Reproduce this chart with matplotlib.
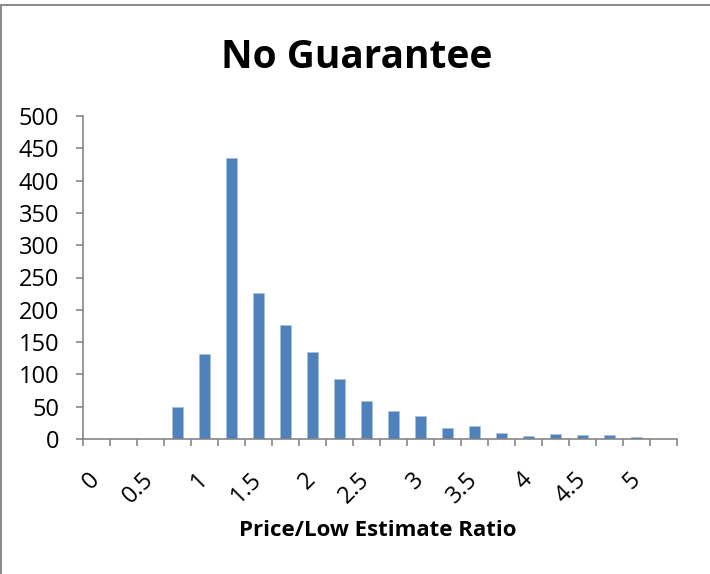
import matplotlib
matplotlib.use("Agg")
import matplotlib.pyplot as plt
from matplotlib.lines import Line2D

plt.rcParams['font.family'] = ['Open Sans', 'DejaVu Sans']

# histogram buckets of price / low estimate, 0.25 wide
bins = [0, 0.25, 0.5, 0.75, 1, 1.25, 1.5, 1.75, 2, 2.25, 2.5,
        2.75, 3, 3.25, 3.5, 3.75, 4, 4.25, 4.5, 4.75, 5, 5.25]
counts = [0, 0, 0, 49, 131, 435, 226, 177, 134, 93, 59,
          44, 36, 17, 20, 10, 4, 7, 6, 6, 3, 0]
yticks = [0, 50, 100, 150, 200, 250, 300, 350, 400, 450, 500]

bar_color = '#4F81BD'
axis_color = '#868686'

fig = plt.figure(figsize=(7.10, 5.74), dpi=100)
ax = fig.add_axes([83 / 710, 1 - 439 / 574, (677 - 83) / 710, (439 - 116) / 574])

pos = list(range(len(bins)))
ax.bar(pos, counts, width=0.4, color=bar_color, edgecolor='#A7C0DE', linewidth=0.5)

ax.set_xlim(-0.5, len(bins) - 0.5)
ax.set_ylim(0, 500)

# labels every other bucket, tick marks on bucket boundaries
labels = [f'{b:g}' if i % 2 == 0 else '' for i, b in enumerate(bins)]
ax.set_xticks(pos)
ax.set_xticklabels(labels, rotation=45, ha='right', va='center',
                   rotation_mode='anchor', fontsize=17)
ax.set_xticks([p - 0.5 for p in pos] + [len(bins) - 0.5], minor=True)
ax.tick_params(axis='x', which='major', length=0, pad=27)
ax.tick_params(axis='x', which='minor', length=5, width=1.2, color=axis_color, direction='out')

ax.set_yticks(yticks)
ax.set_yticklabels([str(v) for v in yticks], fontsize=17)
ax.tick_params(axis='y', length=5, width=1.2, color=axis_color, direction='out', pad=12)

for side in ['top', 'right']:
    ax.spines[side].set_visible(False)
for side in ['left', 'bottom']:
    ax.spines[side].set_color(axis_color)
    ax.spines[side].set_linewidth(1.2)

fig.text(357 / 710, 1 - 68 / 574, 'No Guarantee', ha='center', va='baseline',
         fontsize=28, fontweight='bold')
fig.text(378 / 710, 1 - 536.5 / 574, 'Price/Low Estimate Ratio', ha='center', va='baseline',
         fontsize=16, fontweight='bold')

# chart area border (top and left edges)
fig.add_artist(Line2D([0, 1], [1 - 4.5 / 574, 1 - 4.5 / 574], color='#8C8C8C', linewidth=1.5,
                      transform=fig.transFigure))
fig.add_artist(Line2D([1 / 710, 1 / 710], [0, 1 - 4.5 / 574], color='#8C8C8C', linewidth=1.5,
                      transform=fig.transFigure))

fig.savefig('out.png', dpi=100)
